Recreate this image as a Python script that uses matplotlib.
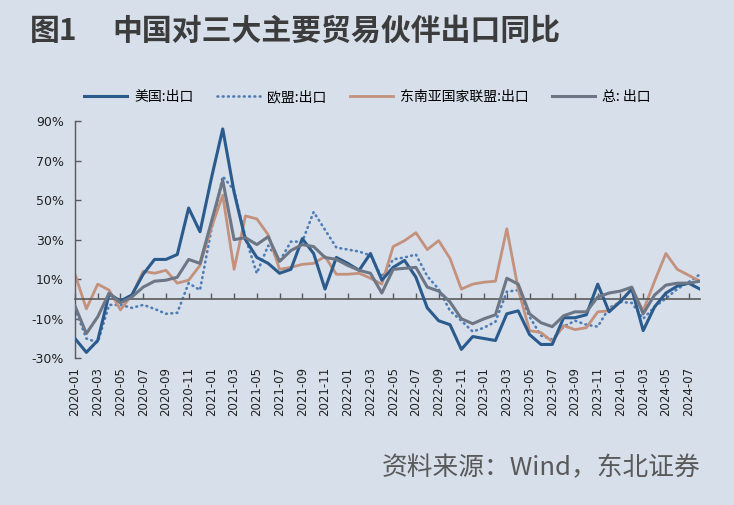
import matplotlib
matplotlib.use('Agg')
import matplotlib.pyplot as plt
from matplotlib.ticker import FixedLocator, FuncFormatter

plt.rcParams['font.family'] = ['Noto Sans CJK SC', 'DejaVu Sans']

# monthly data, 2020-01 .. 2024-08 (YoY, %)
months = [f'{2020 + k // 12}-{k % 12 + 1:02d}' for k in range(56)]

us = [-20, -27, -21, 2.5, -1, 2, 12.5, 20, 20, 22.5, 46, 34,
      61, 86, 54, 30, 21, 18, 13, 15, 30.5, 23, 5, 21,
      18, 14.5, 23, 9.5, 16, 19.5, 11, -4.5, -11, -13, -25.5, -19,
      -20, -21, -7.5, -6, -18, -23, -23, -9.5, -9.5, -8, 7.5, -6.5,
      -1.3, 5, -16, -4, 3, 6.5, 8, 5]
eu = [-5, -20, -22, -3, -3, -4.5, -3, -5, -7.5, -7, 8, 4.5,
      35, 62, 55, 31, 13, 27, 19, 29, 29, 44, 35, 26,
      25, 24, 22, 11, 20, 21, 22.5, 11.5, 5, -6, -11, -16.5,
      -14.5, -11.5, 3.7, 4.5, -9, -18.5, -20.5, -14, -11, -13, -14, -4.5,
      -1.5, -2, -10, -4, 0.3, 5, 8.5, 12.5]
asean = [12.5, -5, 7.5, 4.5, -5.5, 2, 14, 13, 14.5, 8, 9.5, 17,
         36, 52.5, 15, 42, 40.5, 32.5, 15, 16, 17.5, 18, 21.5, 12.5,
         12.5, 13, 10.5, 7.5, 26.5, 29.5, 33.5, 25, 29.5, 20.5, 5, 7.5,
         8.5, 9, 35.5, 5, -16, -17, -21.5, -13.5, -15.5, -14.5, -6.5, -6,
         -1, 5, -6, 9, 23, 15, 12, 9]
total = [-3.5, -17.5, -9, 3, -2, 1, 6, 9, 9.5, 11, 20, 18,
         39, 60, 30, 31, 27.5, 31.5, 19, 24.5, 27.5, 26.5, 21, 20,
         17, 14.5, 13, 3, 15, 15.5, 16, 6, 4, -1.5, -10, -12.5,
         -10, -8, 10.5, 7.5, -7.5, -12, -14, -8.5, -6.5, -6.5, 1, 3,
         4, 6, -7.5, 2, 7, 8, 8, 9]

labels = ['美国:出口', '欧盟:出口', '东南亚国家联盟:出口', '总: 出口']
yticks = [-30, -10, 10, 30, 50, 70, 90]

bg = '#d6dfea'
axis_col = '#5a5a5a'

fig = plt.figure(figsize=(7.34, 5.05), dpi=100, facecolor=bg)
ax_h = 237.3 / 505
ax_b = 1 - 358.3 / 505
ax = fig.add_axes([75 / 734, ax_b, 625 / 734, ax_h])
ax.set_facecolor(bg)

x = range(len(months))
ax.plot(x, us, color='#2b5b8d', lw=2.2, label=labels[0], zorder=3)
ax.plot(x, eu, color='#4e7db5', lw=1.9, ls=(0, (0.3, 1.7)), dash_capstyle='round',
        label=labels[1], zorder=2)
ax.plot(x, asean, color='#c4917d', lw=2.0, label=labels[2], zorder=2)
ax.plot(x, total, color='#6d7684', lw=2.2, label=labels[3], zorder=4)

ax.set_xlim(0, 55)
ax.set_ylim(-30, 90)

for s in ['top', 'right']:
    ax.spines[s].set_visible(False)
ax.spines['left'].set_color(axis_col)
ax.spines['left'].set_linewidth(1.0)
ax.spines['bottom'].set_position(('data', 0))
ax.spines['bottom'].set_color(axis_col)
ax.spines['bottom'].set_linewidth(1.2)

ax.yaxis.set_major_locator(FixedLocator(yticks))
ax.yaxis.set_major_formatter(FuncFormatter(lambda v, p: f'{int(v)}%'))
ax.tick_params(axis='y', direction='in', length=4.5, width=1, color=axis_col,
               labelsize=9, labelcolor='#222222', pad=8)

xt = list(range(0, 56, 2))
ax.set_xticks(xt)
ax.set_xticklabels([months[i] for i in xt], rotation=90)
ax.tick_params(axis='x', direction='in', length=4.5, width=1, color=axis_col,
               labelsize=8.5, labelcolor='#222222', pad=49)
for t in ax.get_xticklabels() + ax.get_yticklabels():
    t.set_family('DejaVu Sans')

leg_y = (1 - 97 / 505 - ax_b) / ax_h
ax.legend(loc='center', bbox_to_anchor=(0.468, leg_y),
          ncol=4, frameon=False, fontsize=10, handlelength=3.1, handletextpad=0.5,
          columnspacing=1.7)

fig.text(30 / 734, 1 - 31 / 505, '图1', fontsize=21.5, fontweight='bold',
         color='#3c3c3c', va='center', ha='left')
fig.text(112 / 734, 1 - 31 / 505, '中国对三大主要贸易伙伴出口同比', fontsize=21.5,
         fontweight='bold', color='#3c3c3c', va='center', ha='left')
fig.text(700 / 734, 1 - 468 / 505, '资料来源：Wind，东北证券', fontsize=18.5,
         color='#595959', va='center', ha='right')

fig.savefig('out.png', dpi=100, facecolor=bg)
